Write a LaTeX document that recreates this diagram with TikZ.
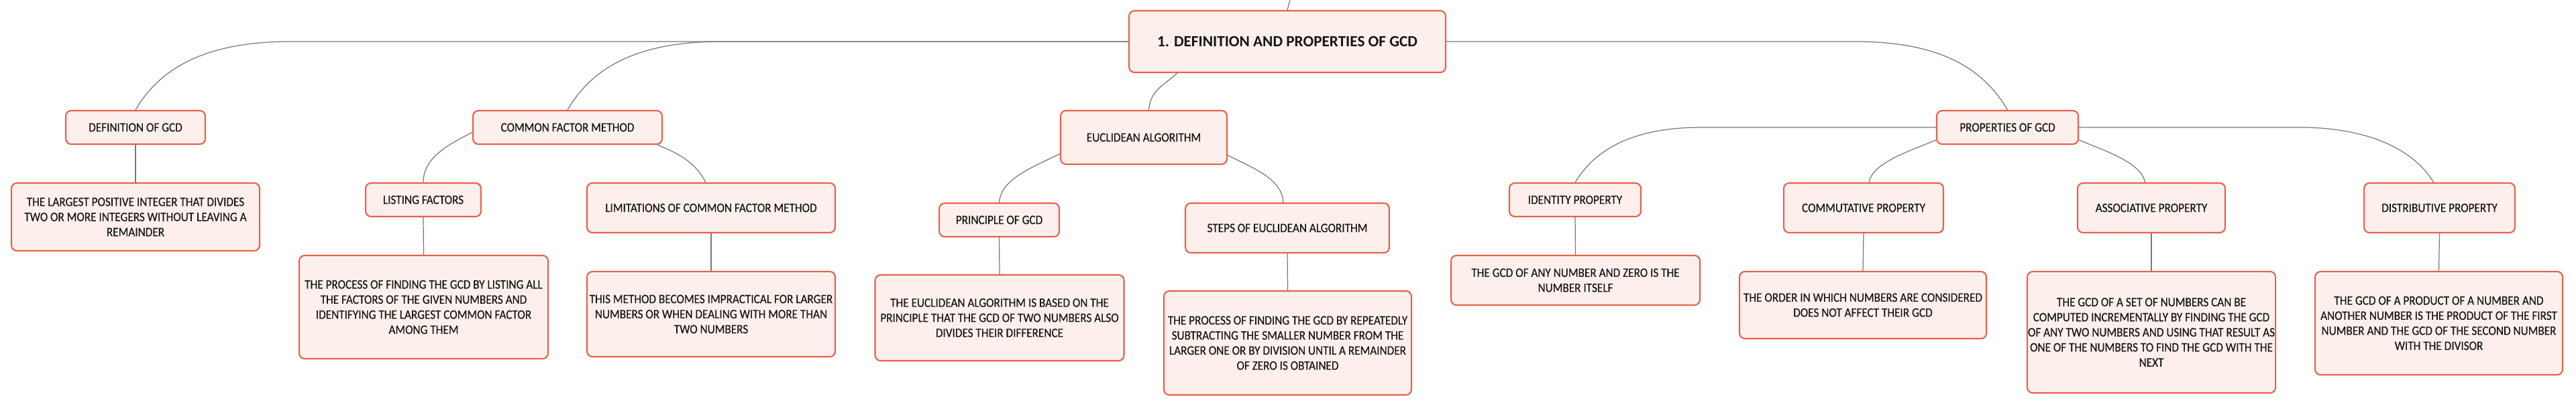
\documentclass[tikz,border=0pt]{standalone}
\usepackage{fontspec}
\usepackage{tikz,xcolor}
\newfontfamily\mapfont{Carlito}[FakeStretch=0.89, FakeBold=0.25]
\newfontfamily\topfont{Carlito}
\definecolor{boxline}{RGB}{232,97,77}
\definecolor{boxfill}{RGB}{253,240,236}
\definecolor{linkgray}{RGB}{120,120,120}
\definecolor{textdark}{RGB}{20,20,20}
\tikzset{
	box/.style={draw=boxline, fill=boxfill, line width=0.6pt, rounded corners=2.3pt, inner sep=0pt, align=center, text=textdark, font=\mapfont\fontsize{5.5}{6.4}\selectfont},
	rootbox/.style={box, font=\topfont\fontsize{6.6}{8}\selectfont\bfseries},
	link/.style={draw=linkgray, line width=0.35pt}
	}

\begin{document}
\begin{tikzpicture}[scale=1.0]

	\useasboundingbox (0,0) rectangle (38.4,-6.06);

	% main topic
	\node[rootbox, minimum width=4.72cm, minimum height=0.92cm] (root) at (19.19,-0.62) {1. DEFINITION AND PROPERTIES OF GCD};
	\coordinate (up) at (19.23,0);

	% definition
	\node[box, minimum width=2.08cm, minimum height=0.5cm] (def) at (2.02,-1.90) {DEFINITION OF GCD};
	\node[box, minimum width=3.70cm, minimum height=1.01cm] (deftxt) at (2.02,-3.235) {THE LARGEST POSITIVE INTEGER THAT DIVIDES\\TWO OR MORE INTEGERS WITHOUT LEAVING A\\REMAINDER};

	% common factor method
	\node[box, minimum width=2.82cm, minimum height=0.5cm] (cfm) at (8.46,-1.90) {COMMON FACTOR METHOD};
	\node[box, minimum width=1.72cm, minimum height=0.5cm] (list) at (6.31,-2.98) {LISTING FACTORS};
	\node[box, minimum width=3.71cm, minimum height=1.54cm] (listtxt) at (6.315,-4.58) {THE PROCESS OF FINDING THE GCD BY LISTING ALL\\THE FACTORS OF THE GIVEN NUMBERS AND\\IDENTIFYING THE LARGEST COMMON FACTOR\\AMONG THEM};
	\node[box, minimum width=3.70cm, minimum height=0.74cm] (limit) at (10.60,-3.10) {LIMITATIONS OF COMMON FACTOR METHOD};
	\node[box, minimum width=3.70cm, minimum height=1.27cm] (limittxt) at (10.60,-4.685) {THIS METHOD BECOMES IMPRACTICAL FOR LARGER\\NUMBERS OR WHEN DEALING WITH MORE THAN\\TWO NUMBERS};

	% euclidean algorithm
	\node[box, minimum width=2.48cm, minimum height=0.80cm] (euclid) at (17.05,-2.05) {EUCLIDEAN ALGORITHM};
	\node[box, minimum width=1.79cm, minimum height=0.5cm] (princ) at (14.895,-3.28) {PRINCIPLE OF GCD};
	\node[box, minimum width=3.71cm, minimum height=1.28cm] (princtxt) at (14.90,-4.74) {THE EUCLIDEAN ALGORITHM IS BASED ON THE\\PRINCIPLE THAT THE GCD OF TWO NUMBERS ALSO\\DIVIDES THEIR DIFFERENCE};
	\node[box, minimum width=3.04cm, minimum height=0.74cm] (steps) at (19.19,-3.40) {STEPS OF EUCLIDEAN ALGORITHM};
	\node[box, minimum width=3.69cm, minimum height=1.55cm] (stepstxt) at (19.195,-5.115) {THE PROCESS OF FINDING THE GCD BY REPEATEDLY\\SUBTRACTING THE SMALLER NUMBER FROM THE\\LARGER ONE OR BY DIVISION UNTIL A REMAINDER\\OF ZERO IS OBTAINED};

	% properties
	\node[box, minimum width=2.11cm, minimum height=0.5cm] (props) at (29.925,-1.90) {PROPERTIES OF GCD};
	\node[box, minimum width=1.96cm, minimum height=0.5cm] (ident) at (23.48,-2.98) {IDENTITY PROPERTY};
	\node[box, minimum width=3.71cm, minimum height=0.74cm] (identtxt) at (23.485,-4.18) {THE GCD OF ANY NUMBER AND ZERO IS THE\\NUMBER ITSELF};
	\node[box, minimum width=2.38cm, minimum height=0.74cm] (comm) at (27.78,-3.10) {COMMUTATIVE PROPERTY};
	\node[box, minimum width=3.68cm, minimum height=1.00cm] (commtxt) at (27.77,-4.55) {THE ORDER IN WHICH NUMBERS ARE CONSIDERED\\DOES NOT AFFECT THEIR GCD};
	\node[box, minimum width=2.20cm, minimum height=0.74cm] (assoc) at (32.07,-3.10) {ASSOCIATIVE PROPERTY};
	\node[box, minimum width=3.70cm, minimum height=1.81cm] (assoctxt) at (32.07,-4.955) {THE GCD OF A SET OF NUMBERS CAN BE\\COMPUTED INCREMENTALLY BY FINDING THE GCD\\OF ANY TWO NUMBERS AND USING THAT RESULT AS\\ONE OF THE NUMBERS TO FIND THE GCD WITH THE\\NEXT};
	\node[box, minimum width=2.25cm, minimum height=0.74cm] (distr) at (36.365,-3.10) {DISTRIBUTIVE PROPERTY};
	\node[box, minimum width=3.69cm, minimum height=1.54cm] (distrtxt) at (36.355,-4.82) {THE GCD OF A PRODUCT OF A NUMBER AND\\ANOTHER NUMBER IS THE PRODUCT OF THE FIRST\\NUMBER AND THE GCD OF THE SECOND NUMBER\\WITH THE DIVISOR};

	% branches from the main topic
	\draw[link] (root.north) -- (up);
	\draw[link] (root.west) -- ++(-12.49,0) .. controls +(-1.3,0) and +(0.35,0.6) .. (def.north);
	\draw[link] (root.west) -- ++(-6.07,0) .. controls +(-1.3,0) and +(0.35,0.6) .. (cfm.north);
	\draw[link] (root.196) .. controls +(-0.25,-0.22) and +(0.04,0.3) .. (euclid.80);
	\draw[link] (root.east) -- ++(6.09,0) .. controls +(1.3,0) and +(-0.35,0.6) .. (props.north);

	% second level
	\draw[link] (cfm.183) .. controls +(-0.4,-0.2) and +(0,0.35) .. (list.north);
	\draw[link] (cfm.-11) .. controls +(0.3,-0.12) and +(-0.15,0.3) .. (limit.102);
	\draw[link] (euclid.191) .. controls +(-0.4,-0.2) and +(0.02,0.35) .. (princ.north);
	\draw[link] (euclid.-12) .. controls +(0.4,-0.2) and +(-0.02,0.35) .. (steps.99);
	\draw[link] (props.west) -- ++(-3.50,0) .. controls +(-1.0,0) and +(0.3,0.5) .. (ident.north);
	\draw[link] (props.190) .. controls +(-0.35,-0.15) and +(0.05,0.3) .. (comm.78);
	\draw[link] (props.-10) .. controls +(0.35,-0.15) and +(-0.05,0.3) .. (assoc.104);
	\draw[link] (props.east) -- ++(3.29,0) .. controls +(1.0,0) and +(-0.3,0.5) .. (distr.103);

	% explanations
	\draw[link] (def.south) -- (deftxt.north);
	\draw[link] (list.south) -- (listtxt.north);
	\draw[link] (limit.south) -- (limittxt.north);
	\draw[link] (princ.south) -- (princtxt.north);
	\draw[link] (steps.south) -- (stepstxt.north);
	\draw[link] (ident.south) -- (identtxt.north);
	\draw[link] (comm.south) -- (commtxt.north);
	\draw[link] (assoc.south) -- (assoctxt.north);
	\draw[link] (distr.south) -- (distrtxt.north);

\end{tikzpicture}
\end{document}
